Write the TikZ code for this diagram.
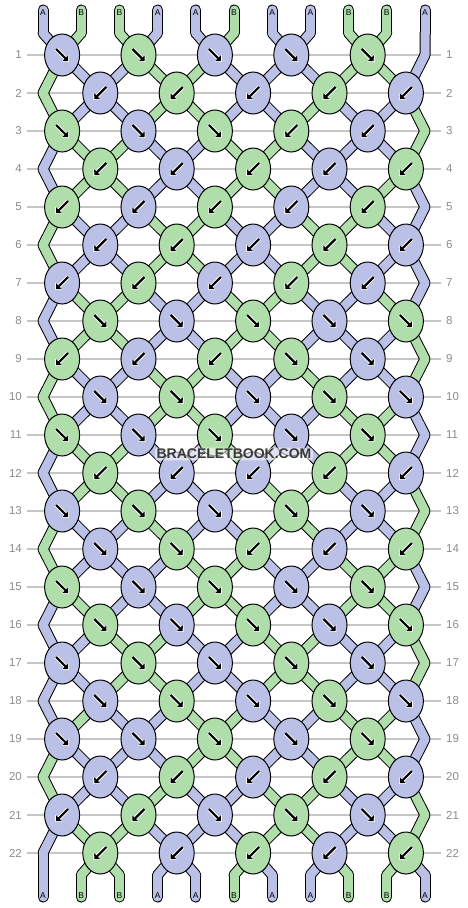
\documentclass[tikz,border=0pt]{standalone}
\usepackage{fontspec}
\setmainfont{Liberation Sans}
\usepackage{tikz}
\usetikzlibrary{shapes.geometric,arrows.meta}
\definecolor{strandA}{HTML}{BBC0E6}
\definecolor{strandB}{HTML}{B0DEAA}
\definecolor{rowgray}{HTML}{C6C6C6}
\definecolor{numgray}{HTML}{8C8C8C}
\definecolor{markgray}{HTML}{3A3A3A}

\pgfdeclarelayer{grid}
\pgfdeclarelayer{strands}
\pgfsetlayers{grid,strands,main}

\tikzset{
  knot/.style={ellipse, draw=black, line width=1pt, fill=strand#1,
    minimum width=35pt, minimum height=42pt, inner sep=0pt},
  arrowhalo/.style={white, line width=4pt, -{Triangle[angle=90:7pt]}, shorten >=-1.2pt},
  arrowink/.style={black, line width=2.2pt, -{Triangle[angle=90:5.5pt]}},
  strandedge/.style={draw=black, line width=11pt, line cap=round},
  strandbody/.style={draw=strand#1, line width=9pt, line cap=round},
  tag/.style={inner sep=0pt, font=\fontsize{8.5}{9}\selectfont},
  rownum/.style={inner sep=0pt, text=numgray, font=\fontsize{11.5}{12}\selectfont},
  rowline/.style={draw=rowgray, line width=1.5pt, shorten <=5pt, shorten >=5pt}
}

% knot or bend that holds position #2 in row #1
\newcommand\slotname[3]{%
  \ifnum#1=0 \edef#3{t-#2}\else
  \ifnum#1=23 \edef#3{b-#2}\else
  \ifodd#1
    \ifnum#2=11 \edef#3{e-#1}\else
      \pgfmathtruncatemacro\slotk{(#2+1)/2}\edef#3{k-#1-\slotk}\fi
  \else
    \ifnum#2=1 \edef#3{e-#1}\else
      \pgfmathtruncatemacro\slotk{#2/2}\edef#3{k-#1-\slotk}\fi
  \fi\fi\fi}

% all strand pieces, colour of position \p after row \r
\newcommand\drawstrands[1]{%
  \foreach \c [count=\p] in {A,B,B,A,A,B,A,A,B,B,A} {
    \draw[#1] (s-\p.center) -- (t-\p.center);
    \draw[#1] (b-\p.center) -- (u-\p.center);
  }
  \foreach \r/\st in {
      0/{A,B,B,A,A,B,A,A,B,B,A}, 1/{B,A,A,B,B,A,A,A,B,B,A},
      2/{B,A,A,B,B,A,A,B,A,A,B}, 3/{A,B,B,A,A,B,B,A,A,A,B},
      4/{A,B,B,A,A,B,B,A,A,B,A}, 5/{B,A,A,B,B,A,A,B,B,A,A},
      6/{B,A,A,B,B,A,A,B,B,A,A}, 7/{A,B,B,A,A,B,B,A,A,B,A},
      8/{A,B,B,A,A,B,B,A,A,A,B}, 9/{B,A,A,B,B,A,A,B,A,A,B},
      10/{B,A,A,B,B,A,A,A,B,B,A}, 11/{A,B,B,A,A,B,A,A,B,B,A},
      12/{A,B,B,A,A,A,B,B,A,A,B}, 13/{B,A,A,B,A,A,B,B,A,A,B},
      14/{B,A,A,A,B,B,A,A,B,B,A}, 15/{A,B,A,A,B,B,A,A,B,B,A},
      16/{A,A,B,B,A,A,B,B,A,A,B}, 17/{A,A,B,B,A,A,B,B,A,A,B},
      18/{A,B,A,A,B,B,A,A,B,B,A}, 19/{B,A,A,A,B,B,A,A,B,B,A},
      20/{B,A,A,B,A,A,B,B,A,A,B}, 21/{A,B,B,A,A,A,B,B,A,A,B},
      22/{A,B,B,A,A,B,A,A,B,B,A}} {
    \pgfmathtruncatemacro\rn{\r+1}
    \foreach \c [count=\p] in \st {
      \slotname{\r}{\p}\segfrom
      \slotname{\rn}{\p}\segto
      \draw[#1] (\segfrom.center) -- (\segto.center);
    }
  }
}

\begin{document}
\begin{tikzpicture}[x=1pt, y=-1pt]
  \useasboundingbox (0,0) rectangle (468,908);
  \begin{pgfonlayer}{grid}
    \fill[white] (0,0) rectangle (468,908);
  \end{pgfonlayer}

  % Strand ends and labels
  \foreach \l [count=\p] in {A,B,B,A,A,B,A,A,B,B,A} {
    \pgfmathsetmacro\sx{43+38.2*(\p-1)}
    \coordinate (s-\p) at (\sx,10);
    \coordinate (t-\p) at (\sx,33);
    \coordinate (b-\p) at (\sx,875);
    \coordinate (u-\p) at (\sx,897);
    \node[tag] (lt-\p) at (\sx,13) {\l};
    \node[tag] (lb-\p) at (\sx,896) {\l};
  }

  % Side bends, row numbers and lines
  \foreach \r in {1,...,22} {
    \pgfmathsetmacro\ky{55+38*(\r-1)}
    \ifodd\r
      \coordinate (e-\r) at (425,\ky);
    \else
      \coordinate (e-\r) at (43,\ky);
    \fi
    \node[rownum, anchor=east] (nl-\r) at (22,\ky) {\r};
    \node[rownum, anchor=west] (nr-\r) at (446,\ky) {\r};
    \begin{pgfonlayer}{grid}
      \draw[rowline] (nl-\r.east) -- (nr-\r.west);
    \end{pgfonlayer}
  }

  % Knots: colour/direction
  \foreach \r/\kn in {
      1/{A/f,B/f,A/f,A/f,B/f}, 2/{A/b,B/b,A/b,B/b,A/b},
      3/{B/f,A/f,B/f,B/b,A/b}, 4/{B/b,A/b,B/b,A/b,B/b},
      5/{B/b,A/b,B/b,A/b,B/b}, 6/{A/b,B/b,A/b,B/b,A/b},
      7/{A/b,B/b,A/b,B/b,A/b}, 8/{B/f,A/f,B/f,A/f,B/f},
      9/{B/b,A/b,B/b,B/f,A/f}, 10/{A/f,B/f,A/f,B/f,A/f},
      11/{B/f,A/f,B/f,A/f,B/f}, 12/{B/b,A/b,A/b,B/b,A/b},
      13/{A/f,B/f,A/f,B/f,A/f}, 14/{A/f,B/f,B/b,A/b,B/b},
      15/{B/f,A/f,B/f,A/f,B/f}, 16/{B/f,A/f,B/f,A/f,B/f},
      17/{A/f,B/f,A/f,B/f,A/f}, 18/{A/f,B/f,A/f,B/f,A/f},
      19/{A/f,A/f,B/f,A/f,B/f}, 20/{A/b,B/b,A/b,B/b,A/b},
      21/{A/b,B/b,A/f,B/f,A/f}, 22/{B/b,A/b,B/b,A/b,B/b}} {
    \pgfmathsetmacro\ky{55+38*(\r-1)}
    \foreach \c/\d [count=\i] in \kn {
      \pgfmathsetmacro\kx{43+38.2*(2*\i-1.5+mod(\r+1,2))}
      \node[knot=\c] (k-\r-\i) at (\kx,\ky) {};
      \if\d f\def\ax{-6}\def\bx{6}\else\def\ax{6}\def\bx{-6}\fi
      \draw[arrowhalo] ([shift={(\ax,-6)}]k-\r-\i.center) -- ([shift={(\bx,6)}]k-\r-\i.center);
      \draw[arrowink] ([shift={(\ax,-6)}]k-\r-\i.center) -- ([shift={(\bx,6)}]k-\r-\i.center);
    }
  }

  % Strands under the knots
  \begin{pgfonlayer}{strands}
    \drawstrands{strandedge}
    \drawstrands{strandbody=\c}
  \end{pgfonlayer}

  % Watermark
  \node[text=markgray, fill=white, fill opacity=0.55, text opacity=1, inner sep=1.5pt,
    rounded corners=3pt, font=\bfseries\fontsize{14}{14}\selectfont] (mark) at (234,454)
    {BRACELETBOOK.COM};
\end{tikzpicture}
\end{document}
